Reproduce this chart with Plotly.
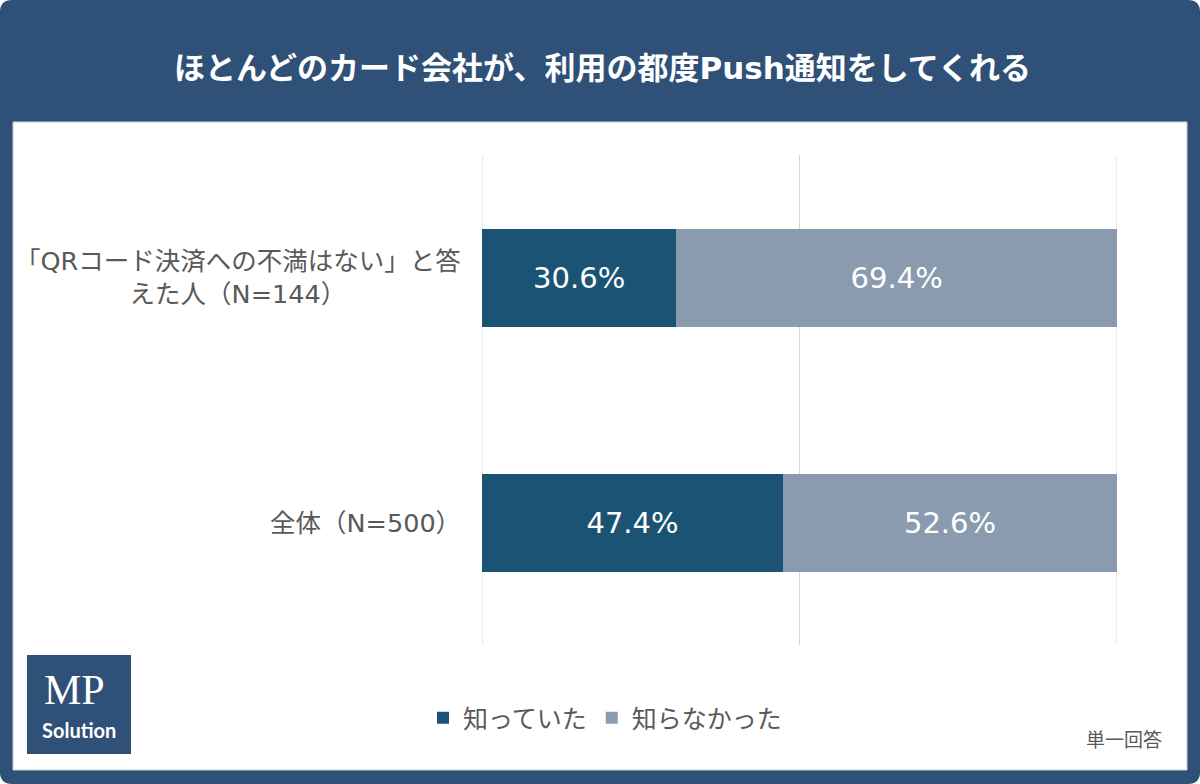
import plotly.graph_objects as go

categories = ["全体（N=500）", "「QRコード決済への不満はない」と答<br>えた人（N=144）"]
knew = [47.4, 30.6]
didnt = [52.6, 69.4]
series_names = ["知っていた", "知らなかった"]
grid_ticks = [0, 50, 100]
title_text = "ほとんどのカード会社が、利用の都度Push通知をしてくれる"
note_text = "単一回答"

W, H = 1200, 784
L, R, T, B = 482, 83, 155, 139
PW, PH = W - L - R, H - T - B

def px(x):
    return (x - L) / PW

def py(y):
    return (H - B - y) / PH

FONT = "DejaVu Sans, Noto Sans CJK JP, sans-serif"
BLUE = "#2f5178"
DARK = "#1a5373"
LIGHT = "#8a9bb0"
GRAY = "#595959"

fig = go.Figure()
fig.add_trace(go.Bar(
    y=categories, x=knew, name=series_names[0], orientation="h",
    marker=dict(color=DARK, line=dict(width=0)),
    texttemplate="%{x:.1f}%", textposition="inside", insidetextanchor="middle",
    textfont=dict(color="white", size=29, family=FONT),
))
fig.add_trace(go.Bar(
    y=categories, x=didnt, name=series_names[1], orientation="h",
    marker=dict(color=LIGHT, line=dict(width=0)),
    texttemplate="%{x:.1f}%", textposition="inside", insidetextanchor="middle",
    textfont=dict(color="white", size=29, family=FONT),
))

r = 12
def rounded(x0, y0, x1, y1, rad):
    return (f"M {px(x0+rad)},{py(y0)} L {px(x1-rad)},{py(y0)} Q {px(x1)},{py(y0)} {px(x1)},{py(y0+rad)} "
            f"L {px(x1)},{py(y1-rad)} Q {px(x1)},{py(y1)} {px(x1-rad)},{py(y1)} "
            f"L {px(x0+rad)},{py(y1)} Q {px(x0)},{py(y1)} {px(x0)},{py(y1-rad)} "
            f"L {px(x0)},{py(y0+rad)} Q {px(x0)},{py(y0)} {px(x0+rad)},{py(y0)} Z")

shapes = [
    dict(type="path", xref="paper", yref="paper", path=rounded(0, 0, W, H, r),
         fillcolor=BLUE, line=dict(width=0), layer="below"),
    dict(type="rect", xref="paper", yref="paper", x0=px(13), x1=px(1187), y0=py(122), y1=py(770),
         fillcolor="white", line=dict(color="#c8ced6", width=1), layer="below"),
    dict(type="rect", xref="paper", yref="paper", x0=px(27), x1=px(131), y0=py(655), y1=py(754),
         fillcolor=BLUE, line=dict(width=0), layer="below"),
]
for t in grid_ticks:
    shapes.append(dict(type="line", xref="x", yref="paper", x0=t, x1=t, y0=0, y1=1,
                       line=dict(color="#d6d6d6", width=1), layer="below"))

annotations = [
    dict(text=f"<b>{title_text}</b>", xref="paper", yref="paper", x=px(602), y=py(68),
         xanchor="center", yanchor="middle", showarrow=False,
         font=dict(color="white", size=31, family=FONT)),
    dict(text=note_text, xref="paper", yref="paper", x=px(1164), y=py(740),
         xanchor="right", yanchor="middle", showarrow=False,
         font=dict(color=GRAY, size=19, family=FONT)),
    dict(text="MP", xref="paper", yref="paper", x=px(74), y=py(690),
         xanchor="center", yanchor="middle", showarrow=False,
         font=dict(color="white", size=42, family="Liberation Serif, serif")),
    dict(text="<b>Solution</b>", xref="paper", yref="paper", x=px(79), y=py(730),
         xanchor="center", yanchor="middle", showarrow=False,
         font=dict(color="white", size=20, family="Lato, Open Sans, sans-serif")),
]
for c in categories:
    annotations.append(dict(text=c, xref="paper", yref="y", x=px(463), y=c,
                            xanchor="right", yanchor="middle", align="center", showarrow=False,
                            font=dict(color=GRAY, size=25.5, family=FONT)))

fig.update_layout(
    width=W, height=H,
    margin=dict(l=L, r=R, t=T, b=B, pad=0),
    paper_bgcolor="white", plot_bgcolor="rgba(0,0,0,0)",
    barmode="stack", bargap=0.6,
    font=dict(family=FONT, color=GRAY),
    shapes=shapes, annotations=annotations,
    showlegend=True,
    legend=dict(orientation="h", x=px(605), xanchor="center", y=py(718), yanchor="middle",
                font=dict(size=25, color=GRAY, family=FONT), bgcolor="rgba(0,0,0,0)",
                traceorder="normal", itemclick=False),
    xaxis=dict(range=[0, 100], showticklabels=False, showgrid=False,
               zeroline=False, showline=False, fixedrange=True),
    yaxis=dict(showticklabels=False, showgrid=False, zeroline=False, showline=False,
               categoryorder="array", categoryarray=categories, fixedrange=True),
)

fig.write_html("out.html", config=dict(displayModeBar=False))
